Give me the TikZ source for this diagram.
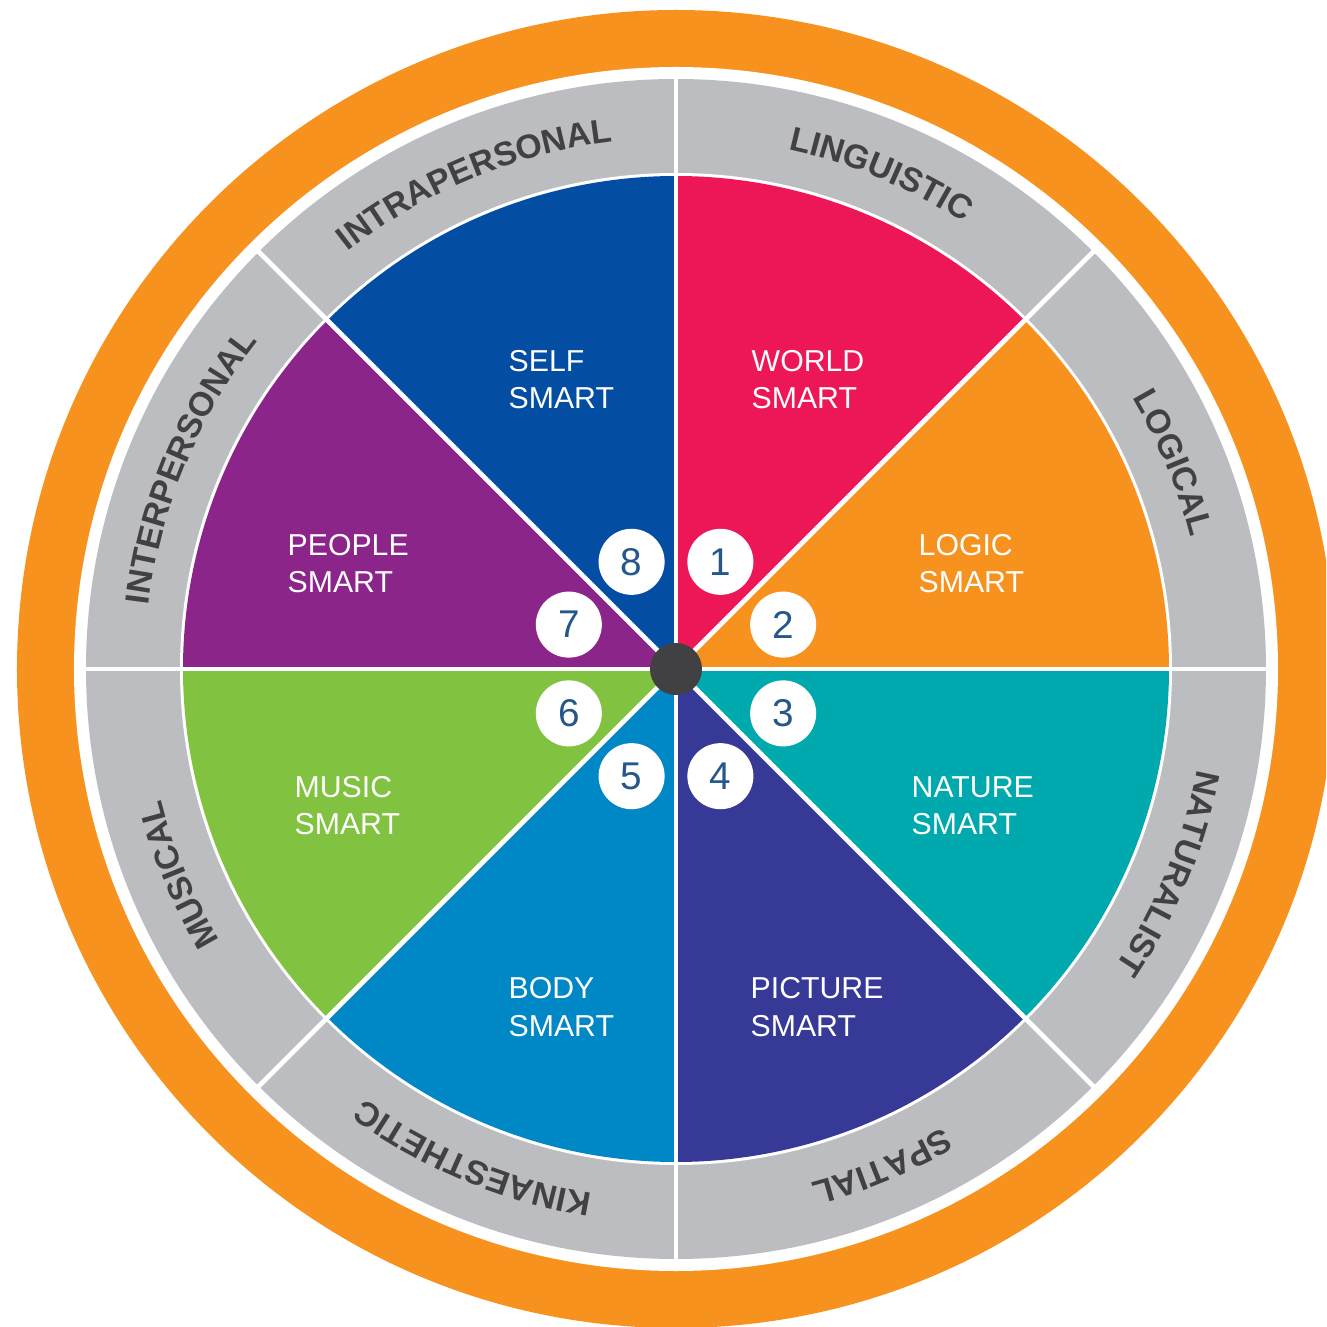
\documentclass[tikz,border=0pt]{standalone}
\usepackage{fontspec}
\setmainfont{Liberation Sans}
\usetikzlibrary{decorations.text}
\definecolor{ringorange}{HTML}{F7921E}
\definecolor{ringgray}{HTML}{BCBDC1}
\definecolor{wpink}{HTML}{ED1757}
\definecolor{worange}{HTML}{F7921E}
\definecolor{wteal}{HTML}{00A9AD}
\definecolor{windigo}{HTML}{363996}
\definecolor{wblue}{HTML}{0087C5}
\definecolor{wgreen}{HTML}{82C241}
\definecolor{wpurple}{HTML}{8B2589}
\definecolor{wdarkblue}{HTML}{034EA2}
\definecolor{dotgray}{HTML}{414042}
\definecolor{numblue}{HTML}{24578A}
\definecolor{ringtext}{HTML}{414042}
\newcommand\ringfont{\fontsize{9.6}{12}\selectfont\bfseries}
\begin{document}
\begin{tikzpicture}[x=0.01cm,y=0.01cm,
  wlabel/.style={text=white,font=\fontsize{8.6}{10.6}\selectfont,align=left,inner sep=0pt,anchor=base west},
  numcircle/.style={circle,fill=white,minimum size=0.66cm,inner sep=0pt,text=numblue,font=\fontsize{11}{13}\selectfont},
  sep/.style={white,line width=1.4pt},
  ringlabel/.style={decorate,decoration={text along path,text align=center,text color=ringtext,text={|\ringfont|#1}}}
]
\useasboundingbox (-676,-658) rectangle (650,669);
\clip (-676,-658) rectangle (650,669);
% rings
\fill[ringorange] (0,0) circle[radius=659];
\fill[white] (0,0) circle[radius=602];
\fill[ringgray] (0,0) circle[radius=590];
\fill[white] (0,0) circle[radius=496];
% wedges
\foreach \a/\c in {45/wpink,0/worange,-45/wteal,-90/windigo,-135/wblue,-180/wgreen,135/wpurple,90/wdarkblue}{
  \fill[\c] (0,0) -- (\a:493) arc[start angle=\a, end angle=\a+45, radius=493] -- cycle;
}
% separators
\foreach \a in {0,45,...,315}{
  \draw[sep] (0,0) -- (\a:597);
}
% ring labels
\foreach \t/\m in {LINGUISTIC/67.5,LOGICAL/22.5,NATURALIST/-22.5,SPATIAL/-67.5,KINAESTHETIC/-112.5,MUSICAL/-157.5,INTERPERSONAL/157.5,INTRAPERSONAL/112.5}{
  \path[ringlabel=\t] (\m+22.5:531) arc[start angle=\m+22.5, end angle=\m-22.5, radius=531];
}
% center dot
\node[circle,fill=dotgray,minimum size=0.52cm,inner sep=0pt] (c) at (0,0) {};
% numbers
\node[numcircle] (n1) at (67.5:116) {1};
\node[numcircle] (n2) at (22.5:116) {2};
\node[numcircle] (n3) at (-22.5:116) {3};
\node[numcircle] (n4) at (-67.5:116) {4};
\node[numcircle] (n5) at (-112.5:116) {5};
\node[numcircle] (n6) at (-157.5:116) {6};
\node[numcircle] (n7) at (157.5:116) {7};
\node[numcircle] (n8) at (112.5:116) {8};
% wedge labels (anchor at baseline of the second line)
\node[wlabel] (l8) at (-168,260) {SELF\\SMART};
\node[wlabel] (l1) at (75,260) {WORLD\\SMART};
\node[wlabel] (l2) at (242,76) {LOGIC\\SMART};
\node[wlabel] (l7) at (-389,76) {PEOPLE\\SMART};
\node[wlabel] (l6) at (-382,-166) {MUSIC\\SMART};
\node[wlabel] (l3) at (235,-166) {NATURE\\SMART};
\node[wlabel] (l5) at (-168,-367) {BODY\\SMART};
\node[wlabel] (l4) at (74,-367) {PICTURE\\SMART};
\end{tikzpicture}
\end{document}
